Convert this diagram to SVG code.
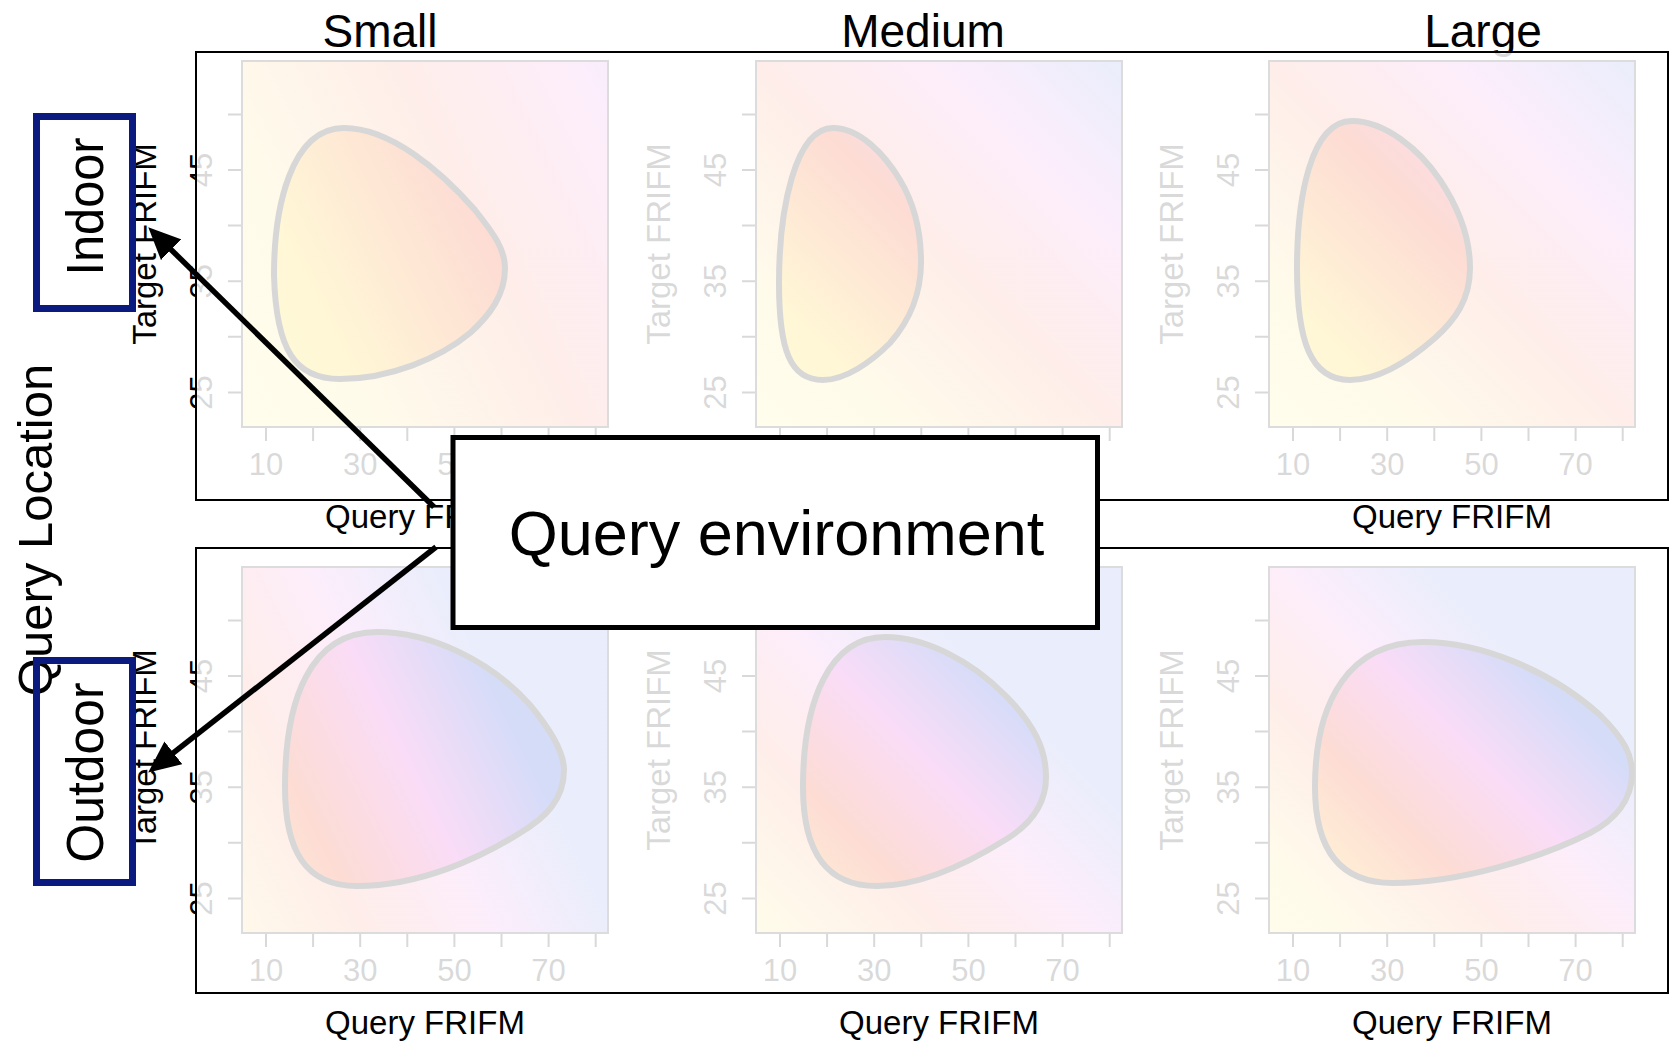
<svg xmlns="http://www.w3.org/2000/svg" width="1670" height="1045" viewBox="0 0 1670 1045">
<style>
text{font-family:"Liberation Sans",Arial,Helvetica,sans-serif;fill:#000}
.title{font-size:46px;text-anchor:middle}
.tl{font-size:31px;text-anchor:middle}
.ax{font-size:33px;text-anchor:middle}
.tick{stroke:#000;stroke-width:2}
.veil{fill:#fff;fill-opacity:0.85}
.frame{fill:none;stroke:#000;stroke-width:2}
.pbg{fill-opacity:0.5;stroke:#dcdcdc;stroke-width:2}
.blob{stroke:#d7d7d7;stroke-width:6}
.lab{fill:none;stroke:#0b1a7e;stroke-width:7}
.big{font-size:52px;text-anchor:middle}
.arrow{stroke:#000;stroke-width:5.5;fill:none;marker-end:url(#ah)}
</style>
<defs>
<linearGradient id="cmap">
<stop offset="0" stop-color="#fffbd8"/>
<stop offset="0.2" stop-color="#fff7d6"/>
<stop offset="0.5" stop-color="#fddcd4"/>
<stop offset="0.75" stop-color="#fadcf7"/>
<stop offset="0.9" stop-color="#e4dcf8"/>
<stop offset="1" stop-color="#d5dcf8"/>
</linearGradient>
<linearGradient id="gTL" href="#cmap" gradientUnits="userSpaceOnUse" x1="242" y1="427" x2="790" y2="153"/>
<linearGradient id="gTM" href="#cmap" gradientUnits="userSpaceOnUse" x1="756" y1="427" x2="1121" y2="61"/>
<linearGradient id="gTR" href="#cmap" gradientUnits="userSpaceOnUse" x1="1269" y1="427" x2="1635" y2="61"/>
<linearGradient id="gBL" href="#cmap" gradientUnits="userSpaceOnUse" x1="142" y1="982" x2="542" y2="782"/>
<linearGradient id="gBM" href="#cmap" gradientUnits="userSpaceOnUse" x1="707" y1="981" x2="1000" y2="688"/>
<linearGradient id="gBR" href="#cmap" gradientUnits="userSpaceOnUse" x1="1250" y1="950" x2="1530" y2="670"/>
<marker id="ah" markerUnits="userSpaceOnUse" markerWidth="32" markerHeight="29" viewBox="0 0 32 29" refX="16" refY="14.5" orient="auto">
<path d="M0,0 L32,14.5 L0,29 z" fill="#000"/>
</marker>
</defs>
<rect width="1670" height="1045" fill="#fff"/>

<g id="titles">
<text class="title" x="380" y="47">Small</text>
<text class="title" x="923" y="47">Medium</text>
<text class="title" x="1483" y="47">Large</text>
</g>

<g id="axes">
<g id="axes-TL">
<path class="tick" d="M228,114.4H241M228,170H241M228,225.6H241M228,281.2H241M228,336.8H241M228,392.4H241M266,427V441M313.1,427V441M360.2,427V441M407.3,427V441M454.4,427V441M501.5,427V441M548.6,427V441M595.7,427V441"/>
<text class="tl" transform="translate(212,170) rotate(-90)">45</text>
<text class="tl" transform="translate(212,281.2) rotate(-90)">35</text>
<text class="tl" transform="translate(212,392.4) rotate(-90)">25</text>
<text class="tl" x="266" y="475">10</text>
<text class="tl" x="360.2" y="475">30</text>
<text class="tl" x="454.4" y="475">50</text>
<text class="ax" transform="translate(156,244) rotate(-90)">Target FRIFM</text>
<text class="ax" x="425" y="528">Query FRIFM</text>
</g>
<g id="axes-TM">
<path class="tick" d="M742,114.4H755M742,170H755M742,225.6H755M742,281.2H755M742,336.8H755M742,392.4H755M780,427V441M827.1,427V441M874.2,427V441M921.3,427V441M968.4,427V441M1015.5,427V441M1062.6,427V441M1109.7,427V441"/>
<text class="tl" transform="translate(726,170) rotate(-90)">45</text>
<text class="tl" transform="translate(726,281.2) rotate(-90)">35</text>
<text class="tl" transform="translate(726,392.4) rotate(-90)">25</text>
<text class="ax" transform="translate(670,244) rotate(-90)">Target FRIFM</text>
</g>
<g id="axes-TR">
<path class="tick" d="M1255,114.4H1268M1255,170H1268M1255,225.6H1268M1255,281.2H1268M1255,336.8H1268M1255,392.4H1268M1293,427V441M1340.1,427V441M1387.2,427V441M1434.3,427V441M1481.4,427V441M1528.5,427V441M1575.6,427V441M1622.7,427V441"/>
<text class="tl" transform="translate(1239,170) rotate(-90)">45</text>
<text class="tl" transform="translate(1239,281.2) rotate(-90)">35</text>
<text class="tl" transform="translate(1239,392.4) rotate(-90)">25</text>
<text class="tl" x="1293" y="475">10</text>
<text class="tl" x="1387.2" y="475">30</text>
<text class="tl" x="1481.4" y="475">50</text>
<text class="tl" x="1575.6" y="475">70</text>
<text class="ax" transform="translate(1183,244) rotate(-90)">Target FRIFM</text>
<text class="ax" x="1452" y="528">Query FRIFM</text>
</g>
<g id="axes-BL">
<path class="tick" d="M228,620.4H241M228,676H241M228,731.6H241M228,787.2H241M228,842.8H241M228,898.4H241M266,933V947M313.1,933V947M360.2,933V947M407.3,933V947M454.4,933V947M501.5,933V947M548.6,933V947M595.7,933V947"/>
<text class="tl" transform="translate(212,676) rotate(-90)">45</text>
<text class="tl" transform="translate(212,787.2) rotate(-90)">35</text>
<text class="tl" transform="translate(212,898.4) rotate(-90)">25</text>
<text class="tl" x="266" y="981">10</text>
<text class="tl" x="360.2" y="981">30</text>
<text class="tl" x="454.4" y="981">50</text>
<text class="tl" x="548.6" y="981">70</text>
<text class="ax" transform="translate(156,750) rotate(-90)">Target FRIFM</text>
<text class="ax" x="425" y="1034">Query FRIFM</text>
</g>
<g id="axes-BM">
<path class="tick" d="M742,620.4H755M742,676H755M742,731.6H755M742,787.2H755M742,842.8H755M742,898.4H755M780,933V947M827.1,933V947M874.2,933V947M921.3,933V947M968.4,933V947M1015.5,933V947M1062.6,933V947M1109.7,933V947"/>
<text class="tl" transform="translate(726,676) rotate(-90)">45</text>
<text class="tl" transform="translate(726,787.2) rotate(-90)">35</text>
<text class="tl" transform="translate(726,898.4) rotate(-90)">25</text>
<text class="tl" x="780" y="981">10</text>
<text class="tl" x="874.2" y="981">30</text>
<text class="tl" x="968.4" y="981">50</text>
<text class="tl" x="1062.6" y="981">70</text>
<text class="ax" transform="translate(670,750) rotate(-90)">Target FRIFM</text>
<text class="ax" x="939" y="1034">Query FRIFM</text>
</g>
<g id="axes-BR">
<path class="tick" d="M1255,620.4H1268M1255,676H1268M1255,731.6H1268M1255,787.2H1268M1255,842.8H1268M1255,898.4H1268M1293,933V947M1340.1,933V947M1387.2,933V947M1434.3,933V947M1481.4,933V947M1528.5,933V947M1575.6,933V947M1622.7,933V947"/>
<text class="tl" transform="translate(1239,676) rotate(-90)">45</text>
<text class="tl" transform="translate(1239,787.2) rotate(-90)">35</text>
<text class="tl" transform="translate(1239,898.4) rotate(-90)">25</text>
<text class="tl" x="1293" y="981">10</text>
<text class="tl" x="1387.2" y="981">30</text>
<text class="tl" x="1481.4" y="981">50</text>
<text class="tl" x="1575.6" y="981">70</text>
<text class="ax" transform="translate(1183,750) rotate(-90)">Target FRIFM</text>
<text class="ax" x="1452" y="1034">Query FRIFM</text>
</g>
</g>

<g id="veils">
<rect class="veil" x="196" y="52" width="1473" height="448"/>
<rect class="veil" x="196" y="548" width="1473" height="445"/>
</g>

<g id="panel-indoor-small">
<rect class="pbg" x="242" y="61" width="366" height="366" fill="url(#gTL)"/>
<path class="blob" fill="url(#gTL)" d="M274,275 C274,210 290,128 344,128 C390,128 440,170 475,210 C495,235 505,250 505,268 C505,295 490,315 470,333 C440,358 390,379 340,379 C295,379 276,350 274,275 Z"/>
</g>
<g id="panel-indoor-medium">
<rect class="pbg" x="756" y="61" width="366" height="366" fill="url(#gTM)"/>
<path class="blob" fill="url(#gTM)" d="M779,283 C779,210 795,128 833,128 C860,128 885,155 900,180 C915,205 921,235 921,262 C921,295 910,320 890,343 C870,363 845,380 823,380 C790,380 779,350 779,283 Z"/>
</g>
<g id="panel-indoor-large">
<rect class="pbg" x="1269" y="61" width="366" height="366" fill="url(#gTR)"/>
<path class="blob" fill="url(#gTR)" d="M1297,268 C1297,200 1310,121 1352,121 C1385,121 1420,150 1440,180 C1460,210 1470,240 1470,268 C1470,300 1455,320 1435,338 C1410,360 1380,380 1350,380 C1310,380 1297,340 1297,268 Z"/>
</g>
<g id="panel-outdoor-small">
<rect class="pbg" x="242" y="567" width="366" height="366" fill="url(#gBL)"/>
<path class="blob" fill="url(#gBL)" d="M285,787 C285,700 310,632 377,632 C430,632 490,660 530,705 C555,735 564,755 564,770 C564,800 545,818 520,833 C480,858 420,886 357,886 C305,886 285,850 285,787 Z"/>
</g>
<g id="panel-outdoor-medium">
<rect class="pbg" x="756" y="567" width="366" height="366" fill="url(#gBM)"/>
<path class="blob" fill="url(#gBM)" d="M803,787 C803,700 830,637 885,637 C925,637 970,660 1005,695 C1035,725 1046,750 1046,777 C1046,805 1030,825 1005,840 C965,865 920,886 877,886 C825,886 803,850 803,787 Z"/>
</g>
<g id="panel-outdoor-large">
<rect class="pbg" x="1269" y="567" width="366" height="366" fill="url(#gBR)"/>
<path class="blob" fill="url(#gBR)" d="M1315,787 C1315,700 1350,642 1423,642 C1480,642 1550,670 1600,715 C1625,740 1632,755 1632,773 C1632,800 1615,820 1590,833 C1540,858 1460,883 1393,883 C1340,883 1315,850 1315,787 Z"/>
</g>

<g id="frames">
<rect class="frame" x="196" y="52" width="1472" height="448"/>
<rect class="frame" x="196" y="548" width="1472" height="445"/>
</g>

<g id="query-location">
<text font-size="49" text-anchor="middle" transform="translate(52,530) rotate(-90)">Query Location</text>
</g>
<g id="indoor">
<rect class="lab" x="36.5" y="116.5" width="96" height="192"/>
<text class="big" transform="translate(103,206.5) rotate(-90)" textLength="138" lengthAdjust="spacingAndGlyphs">Indoor</text>
</g>
<g id="outdoor">
<rect class="lab" x="36.5" y="660.5" width="96" height="222"/>
<text class="big" transform="translate(103,772.5) rotate(-90)" textLength="180" lengthAdjust="spacingAndGlyphs">Outdoor</text>
</g>

<g id="connectors">
<path class="arrow" d="M434,507 L159.7,238.5"/>
<path class="arrow" d="M436,547 L160.8,762.7"/>
</g>

<g id="query-environment">
<rect x="453" y="437.5" width="644.5" height="190" fill="#fff" stroke="#000" stroke-width="5"/>
<text x="776.5" y="555" font-size="63" text-anchor="middle">Query environment</text>
</g>
</svg>
